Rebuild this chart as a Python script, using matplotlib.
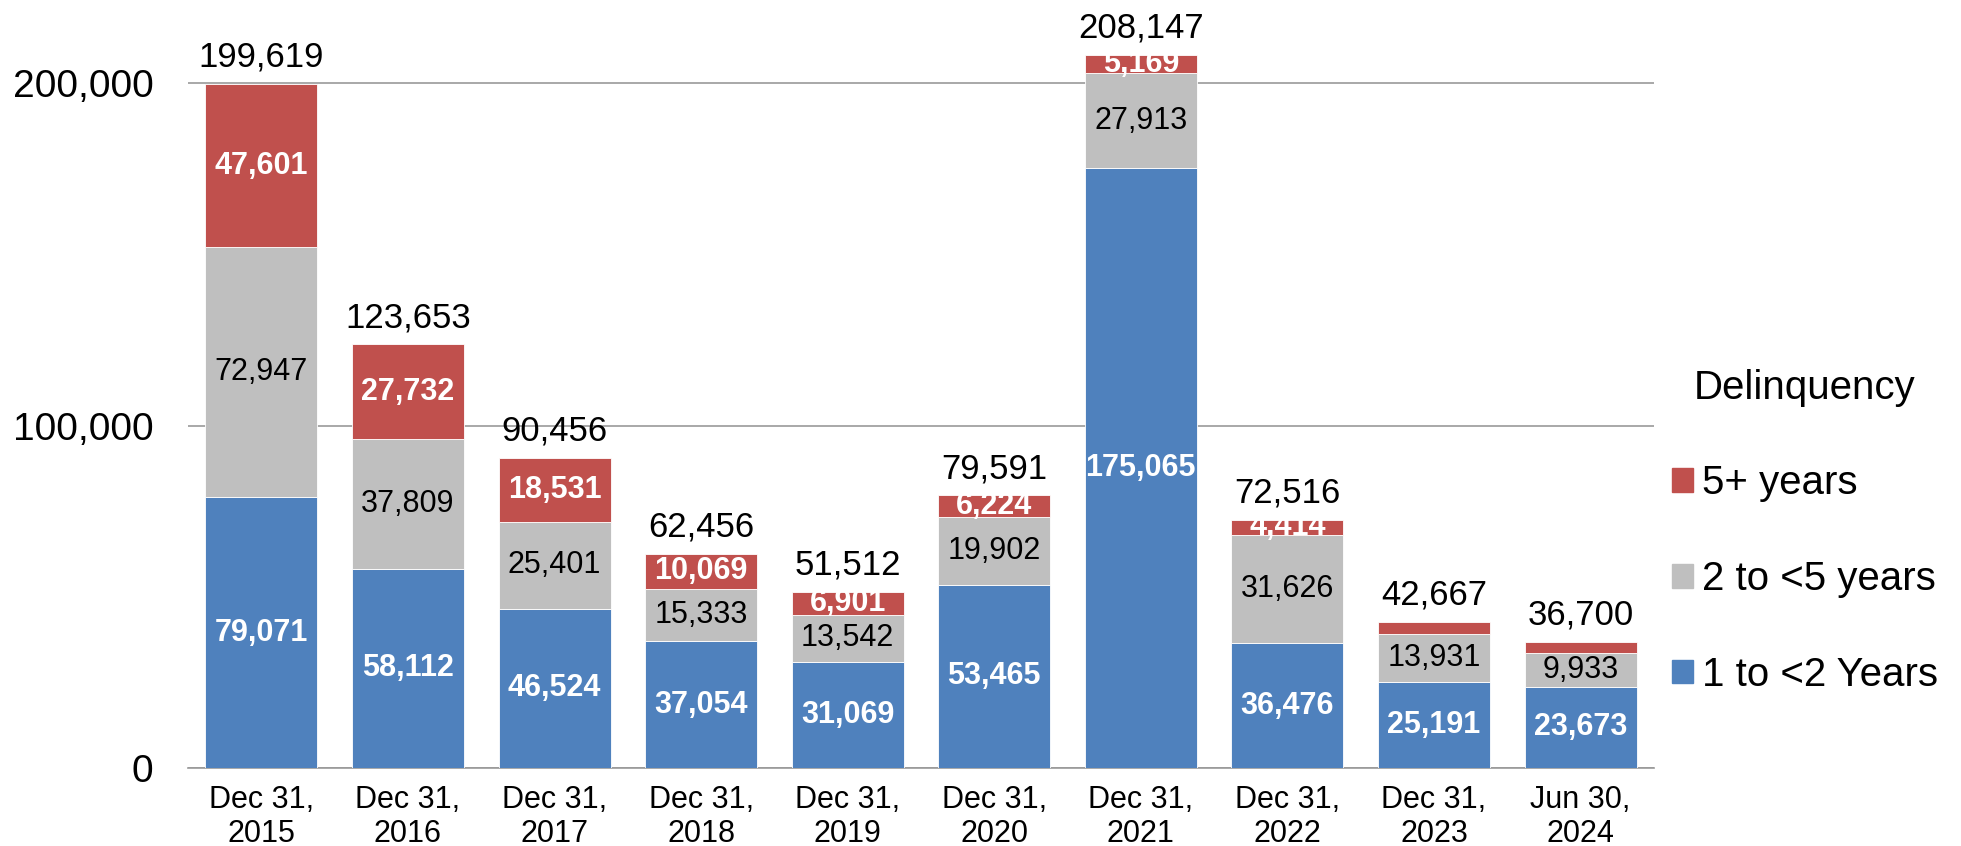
import matplotlib
matplotlib.use("Agg")
import matplotlib.pyplot as plt
from matplotlib.patches import Patch
from matplotlib.ticker import FuncFormatter
import numpy as np

plt.rcParams['font.family'] = ['Liberation Sans', 'DejaVu Sans']

# data
dates = ['Dec 31,\n2015', 'Dec 31,\n2016', 'Dec 31,\n2017', 'Dec 31,\n2018',
         'Dec 31,\n2019', 'Dec 31,\n2020', 'Dec 31,\n2021', 'Dec 31,\n2022',
         'Dec 31,\n2023', 'Jun 30,\n2024']
one_to_two = [79071, 58112, 46524, 37054, 31069, 53465, 175065, 36476, 25191, 23673]
two_to_five = [72947, 37809, 25401, 15333, 13542, 19902, 27913, 31626, 13931, 9933]
five_plus = [47601, 27732, 18531, 10069, 6901, 6224, 5169, 4414, 3545, 3094]
totals = [199619, 123653, 90456, 62456, 51512, 79591, 208147, 72516, 42667, 36700]
# the last two red segments carry no label in the original
five_plus_labeled = [True, True, True, True, True, True, True, True, False, False]

BLUE = '#4F81BD'
GRAY = '#BFBFBF'
RED = '#C0504D'

fig = plt.figure(figsize=(19.61, 8.46), dpi=100)
ax = fig.add_axes([0.0959, 0.0922, 0.7475, 0.8704])

x = np.arange(len(dates))
w = 0.764
blue = np.array(one_to_two)
gray = np.array(two_to_five)
red = np.array(five_plus)

ax.bar(x, blue, w, color=BLUE, edgecolor='white', linewidth=0.6, zorder=3)
ax.bar(x, gray, w, bottom=blue, color=GRAY, edgecolor='white', linewidth=0.6, zorder=3)
ax.bar(x, red, w, bottom=blue + gray, color=RED, edgecolor='white', linewidth=0.6, zorder=3)

seg_fs = 22
for i in range(len(x)):
    ax.text(x[i], blue[i] / 2, f'{blue[i]:,}', ha='center', va='center',
            color='white', fontweight='bold', fontsize=seg_fs, zorder=4)
    ax.text(x[i], blue[i] + gray[i] / 2, f'{gray[i]:,}', ha='center', va='center',
            color='black', fontsize=seg_fs, zorder=4)
    if five_plus_labeled[i]:
        ax.text(x[i], blue[i] + gray[i] + red[i] / 2, f'{red[i]:,}', ha='center',
                va='center', color='white', fontweight='bold', fontsize=seg_fs, zorder=4)
    # total on top of each stack
    ax.annotate(f'{totals[i]:,}', (x[i], totals[i]), xytext=(0, 12.5),
                textcoords='offset points', ha='center', va='baseline',
                fontsize=25, color='black', annotation_clip=False)

ax.set_xlim(-0.5, len(x) - 0.5)
ax.set_ylim(0, 215000)
ax.set_yticks([0, 100000, 200000])
ax.yaxis.set_major_formatter(FuncFormatter(lambda v, p: f'{int(v):,}'))
ax.set_xticks(x)
ax.set_xticklabels(dates, fontsize=22, linespacing=1.2)
ax.tick_params(axis='y', length=0, pad=25, labelsize=28)
ax.tick_params(axis='x', length=0, pad=12)

ax.grid(axis='y', color='#999999', linewidth=1.2, zorder=0)
for s in ['top', 'right', 'left']:
    ax.spines[s].set_visible(False)
ax.spines['bottom'].set_color('#999999')
ax.spines['bottom'].set_linewidth(1.2)

handles = [Patch(color=RED, label='5+ years'),
           Patch(color=GRAY, label='2 to <5 years'),
           Patch(color=BLUE, label='1 to <2 Years')]
fig.legend(handles=handles, title='Delinquency', loc='center left',
           bbox_to_anchor=(0.8526, 0.372), frameon=False, fontsize=29,
           title_fontsize=29, handlelength=0.52, handleheight=0.52,
           handletextpad=0.22, labelspacing=1.43, borderpad=0,
           borderaxespad=0)

fig.savefig('out.png', dpi=100)
